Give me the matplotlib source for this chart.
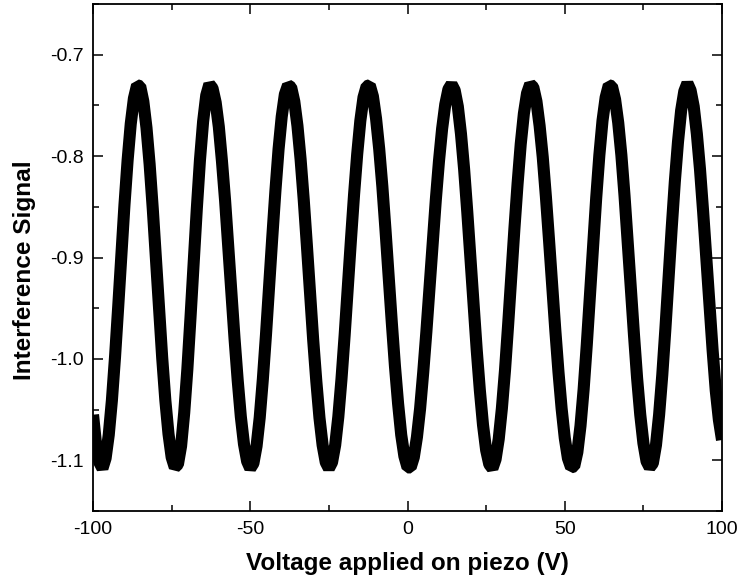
import matplotlib
matplotlib.use("Agg")
import matplotlib.pyplot as plt
from matplotlib.ticker import MultipleLocator
import numpy as np

# piezo voltage, 1 V steps
voltage = np.arange(-100, 101, 1)

# interference signal, one value per volt
signal = [
    -1.055, -1.085, -1.102, -1.108, -1.098, -1.075, -1.041, -0.998, -0.949, -0.898,   # -100 .. -91
    -0.848, -0.804, -0.768, -0.743, -0.730, -0.731, -0.746, -0.772, -0.808, -0.852,   # -90 .. -81
    -0.901, -0.951, -0.999, -1.041, -1.074, -1.097, -1.107, -1.104, -1.086, -1.053,   # -80 .. -71
    -1.010, -0.959, -0.905, -0.852, -0.804, -0.766, -0.740, -0.729, -0.733, -0.747,   # -70 .. -61
    -0.771, -0.805, -0.844, -0.889, -0.935, -0.980, -1.021, -1.057, -1.084, -1.101,   # -60 .. -51
    -1.108, -1.103, -1.086, -1.058, -1.020, -0.976, -0.928, -0.880, -0.834, -0.793,   # -50 .. -41
    -0.761, -0.739, -0.730, -0.732, -0.746, -0.770, -0.803, -0.843, -0.888, -0.935,   # -40 .. -31
    -0.981, -1.022, -1.058, -1.085, -1.102, -1.108, -1.102, -1.085, -1.057, -1.020,   # -30 .. -21
    -0.977, -0.930, -0.883, -0.838, -0.798, -0.765, -0.742, -0.731, -0.730, -0.741,   # -20 .. -11
    -0.763, -0.793, -0.830, -0.873, -0.919, -0.964, -1.007, -1.044, -1.075, -1.096,   # -10 .. -1
    -1.107, -1.107, -1.097, -1.077, -1.049, -1.013, -0.973, -0.930, -0.886, -0.843,   # 0 .. 9
    -0.805, -0.773, -0.749, -0.734, -0.729, -0.735, -0.751, -0.778, -0.813, -0.855,   # 10 .. 19
    -0.900, -0.946, -0.991, -1.031, -1.065, -1.090, -1.104, -1.108, -1.099, -1.079,   # 20 .. 29
    -1.049, -1.011, -0.966, -0.919, -0.871, -0.827, -0.788, -0.758, -0.738, -0.729,   # 30 .. 39
    -0.732, -0.746, -0.770, -0.801, -0.840, -0.883, -0.928, -0.972, -1.013, -1.049,   # 40 .. 49
    -1.078, -1.098, -1.107, -1.106, -1.092, -1.066, -1.030, -0.986, -0.938, -0.889,   # 50 .. 59
    -0.841, -0.799, -0.765, -0.742, -0.730, -0.731, -0.744, -0.767, -0.799, -0.839,   # 60 .. 69
    -0.884, -0.930, -0.976, -1.019, -1.055, -1.083, -1.101, -1.107, -1.103, -1.085,   # 70 .. 79
    -1.055, -1.016, -0.970, -0.921, -0.871, -0.825, -0.786, -0.755, -0.736, -0.728,   # 80 .. 89
    -0.735, -0.751, -0.778, -0.813, -0.855, -0.900, -0.946, -0.991, -1.031, -1.060,   # 90 .. 99
    -1.080,                                                                           # 100
]

x_label = "Voltage applied on piezo (V)"
y_label = "Interference Signal"

plt.rcParams['font.family'] = ['Liberation Sans', 'DejaVu Sans']

fig = plt.figure(figsize=(7.4, 5.86), dpi=100)
ax = fig.add_axes([0.1257, 0.128, 0.85, 0.865])

ax.plot(voltage, signal, color='black', linewidth=8.7,
        solid_joinstyle='bevel', solid_capstyle='butt')

ax.set_xlim(-100, 100)
ax.set_ylim(-1.15, -0.65)
ax.xaxis.set_minor_locator(MultipleLocator(25))
ax.yaxis.set_minor_locator(MultipleLocator(0.05))
ax.set_yticks([-0.7, -0.8, -0.9, -1.0, -1.1])
ax.set_yticklabels(["-0.7", "-0.8", "-0.9", "-1.0", "-1.1"])
ax.set_xticks([-100, -50, 0, 50, 100])
ax.set_xticklabels(["-100", "-50", "0", "50", "100"])

ax.tick_params(which='both', direction='in', top=True, right=True,
               width=1.1, labelsize=14)
ax.tick_params(which='major', length=7.5, pad=7)
ax.tick_params(which='minor', length=4.5)
for s in ax.spines.values():
    s.set_linewidth(1.3)

ax.set_xlabel(x_label, fontsize=17.5, fontweight='bold', labelpad=10)
ax.set_ylabel(y_label, fontsize=17.6, fontweight='bold')
ax.yaxis.set_label_coords(-0.09, 0.475)

fig.savefig("out.png", dpi=100)
